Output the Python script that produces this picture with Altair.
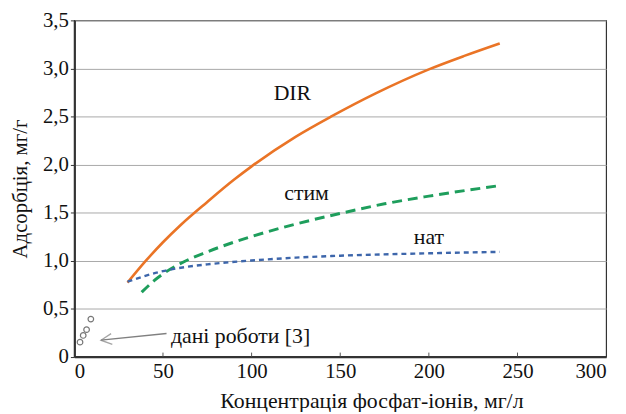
import altair as alt
import pandas as pd

# ---- data ----
dir_x = [30, 40, 50, 60, 75, 90, 100, 125, 145, 170, 200, 220, 240]
dir_y = [0.77, 0.99, 1.19, 1.37, 1.61, 1.84, 1.98, 2.29, 2.50, 2.74, 2.99, 3.13, 3.26]

stim_x = [38, 45, 50, 60, 75, 100, 125, 150, 175, 200, 240]
stim_y = [0.67, 0.79, 0.86, 0.97, 1.09, 1.25, 1.38, 1.49, 1.59, 1.67, 1.78]

nat_x = [30, 40, 50, 62, 75, 100, 125, 150, 200, 240]
nat_y = [0.78, 0.84, 0.89, 0.93, 0.96, 1.00, 1.03, 1.05, 1.075, 1.09]

ref_x = [3.2, 5.0, 6.9, 9.3]
ref_y = [0.15, 0.22, 0.28, 0.39]

label_text = ["DIR", "стим", "нат"]
label_x = [123, 131, 200]
label_y = [2.745, 1.70, 1.24]

arrow_x = [52, 15]
arrow_y = [0.24, 0.17]
note_text = ["дані роботи [3]"]
note_x = [54.5]
note_y = [0.21]

x_ticks = [0, 50, 100, 150, 200, 250, 300]
y_ticks = [0, 0.5, 1.0, 1.5, 2.0, 2.5, 3.0, 3.5]

FONT = "Liberation Serif, Times New Roman, serif"
FS = 21
FS_NOTE = 22

xs = alt.Scale(domain=[0, 300], nice=False)
ys = alt.Scale(domain=[0, 3.5], nice=False)

def line_df(xv, yv, name):
    return pd.DataFrame({"c": xv, "q": yv, "s": name})

x_enc = alt.X("c:Q", scale=xs, title="Концентрація фосфат-іонів, мг/л",
              axis=alt.Axis(values=x_ticks, grid=False, ticks=False,
                            labelPadding=4, titlePadding=9,
                            titleX=300, titleAlign="center", titleFontSize=22,
                            format="d"))
y_enc = alt.Y("q:Q", scale=ys, title="Адсорбція, мг/г",
              axis=alt.Axis(values=y_ticks, grid=True, tickSize=4,
                            labelExpr="replace(format(datum.value, datum.value == 0 ? 'd' : '.1f'), '.', ',')",
                            labelPadding=2, titlePadding=12))

dir_line = alt.Chart(line_df(dir_x, dir_y, "DIR")).mark_line(
    color="#ea7426", strokeWidth=2.6, interpolate="monotone"
).encode(x=x_enc, y=y_enc)

stim_line = alt.Chart(line_df(stim_x, stim_y, "стим")).mark_line(
    color="#1e9e5c", strokeWidth=3, strokeDash=[10, 6], interpolate="monotone"
).encode(x="c:Q", y="q:Q")

nat_line = alt.Chart(line_df(nat_x, nat_y, "нат")).mark_line(
    color="#3d66ab", strokeWidth=2.4, strokeDash=[5, 4], interpolate="monotone"
).encode(x="c:Q", y="q:Q")

ref_pts = alt.Chart(pd.DataFrame({"c": ref_x, "q": ref_y})).mark_point(
    shape="circle", size=32, filled=False, color="#777777", strokeWidth=1.2, fill="white", fillOpacity=1
).encode(x="c:Q", y="q:Q")

labels = alt.Chart(pd.DataFrame({"c": label_x, "q": label_y, "t": label_text})).mark_text(
    font=FONT, fontSize=FS_NOTE, color="#111111", align="center", baseline="middle"
).encode(x="c:Q", y="q:Q", text="t:N")

arrow_df = pd.DataFrame({"c": [arrow_x[0]], "q": [arrow_y[0]], "c2": [arrow_x[1]], "q2": [arrow_y[1]]})
arrow_line = alt.Chart(arrow_df).mark_rule(color="#808080", strokeWidth=1.3).encode(
    x="c:Q", y="q:Q", x2="c2:Q", y2="q2:Q")
arrow_head = alt.Chart(pd.DataFrame({"c": [arrow_x[1]], "q": [arrow_y[1]]})).mark_point(
    shape="M 2 -1 L 0 0 L 2 1", size=120, filled=False, color="#808080", strokeWidth=1.3,
    angle=353.5
).encode(x="c:Q", y="q:Q")

note = alt.Chart(pd.DataFrame({"c": note_x, "q": note_y, "t": note_text})).mark_text(
    font=FONT, fontSize=FS_NOTE, color="#111111", align="left", baseline="middle"
).encode(x="c:Q", y="q:Q", text="t:N")

xtick_marks = alt.Chart(pd.DataFrame({"c": x_ticks[1:-1]})).mark_rule(
    color="#555555", strokeWidth=1
).encode(x="c:Q", y=alt.value(339.5), y2=alt.value(335.5))

chart = alt.layer(
    dir_line, stim_line, nat_line, xtick_marks, ref_pts, arrow_line, arrow_head, labels, note
).properties(
    width=537, height=339.5,
    background="white",
    autosize=alt.AutoSizeParams(type="none"),
    padding={"left": 67, "top": 10.5, "right": 12, "bottom": 54},
).configure_view(
    stroke="#333333", strokeWidth=1.2
).configure_text(
    font=FONT
).configure_axis(
    labelFont=FONT, titleFont=FONT, labelFontSize=FS, titleFontSize=FS,
    labelColor="#111111", titleColor="#111111", titleFontWeight="normal",
    domainColor="#333333", domainWidth=2.2, tickColor="#333333",
    gridColor="#a8a8a8", gridWidth=1
)

chart.save("out.html", embed_options={"renderer": "svg", "actions": False})
